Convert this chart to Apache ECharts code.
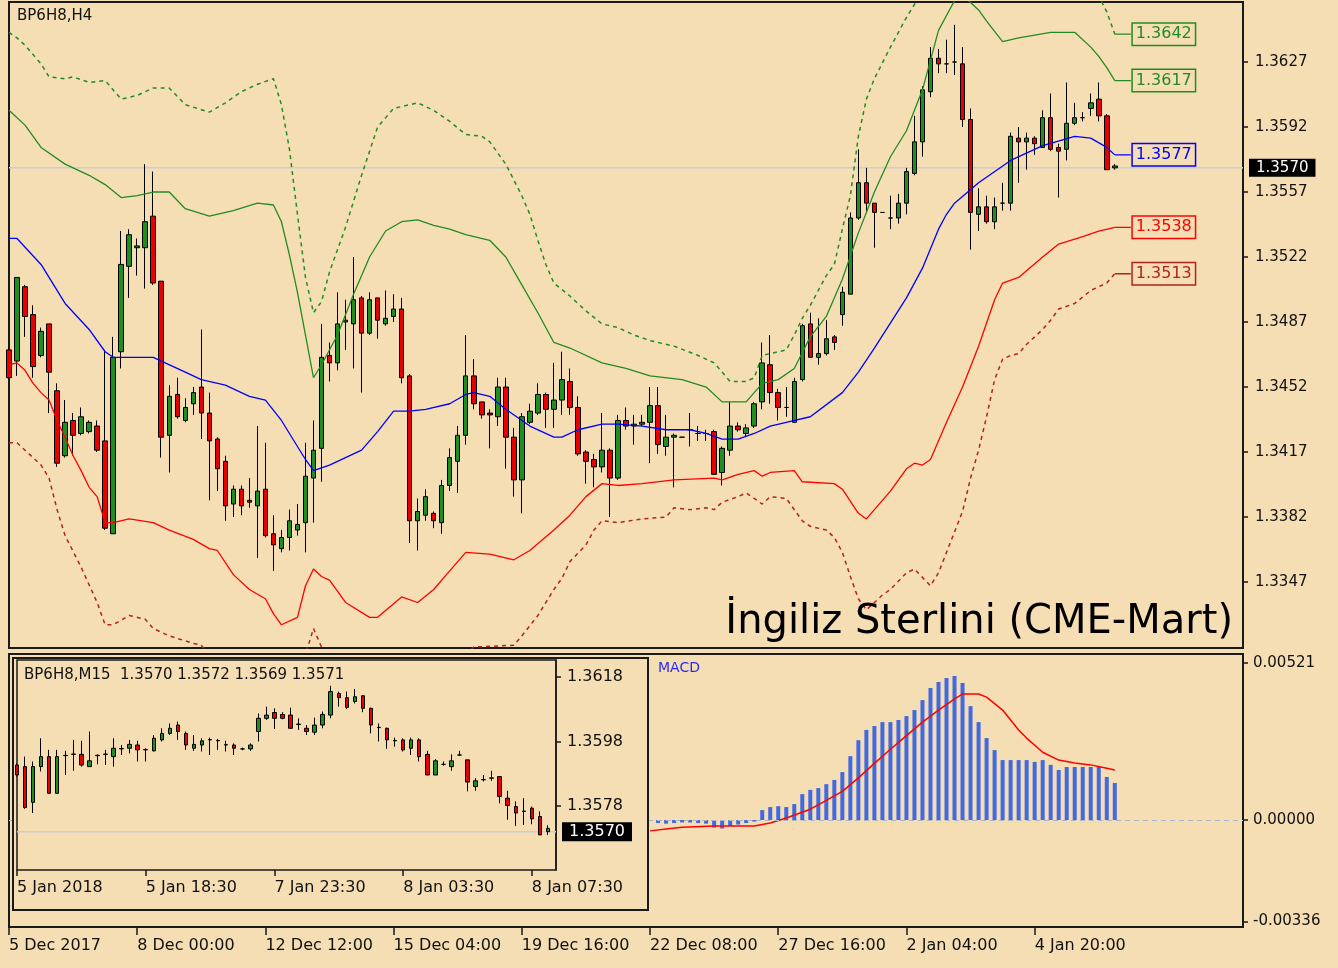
<!DOCTYPE html>
<html>
<head>
<meta charset="utf-8">
<title>BP6H8 H4</title>
<script src="https://cdn.jsdelivr.net/npm/echarts@6/dist/echarts.min.js"></script>
<style>
  html, body { margin: 0; padding: 0; background: #F5DEB3; }
  #chart { width: 1338px; height: 968px; }
</style>
</head>
<body>
<div id="chart"></div>
<script>
// ---- H4 candles (bar index 0..138) ----
const h4Open = [
  1.3472,1.3466,1.3506,1.3491,1.3469,1.3486,1.3450,1.3415,1.3434,1.3427,
  1.3428,1.3431,1.3423,1.3373,1.3471,1.3517,1.3527,1.3527,1.3544,1.3509,
  1.3426,1.3448,1.3434,1.3443,1.3452,1.3438,1.3424,1.3412,1.3389,1.3397,
  1.3391,1.3388,1.3397,1.3373,1.3365,1.3371,1.3375,1.3379,1.3403,1.3419,
  1.3469,1.3465,1.3487,1.3486,1.3500,1.3481,1.3500,1.3486,1.3490,1.3494,
  1.3458,1.3380,1.3383,1.3384,1.3379,1.3399,1.3412,1.3426,1.3458,1.3444,
  1.3438,1.3436,1.3452,1.3425,1.3402,1.3433,1.3438,1.3448,1.3440,1.3445,
  1.3455,1.3441,1.3417,1.3413,1.3409,1.3418,1.3403,1.3434,1.3431,1.3432,
  1.3433,1.3442,1.3420,1.3425,1.3425,1.3429,1.3427,1.3427,1.3428,1.3406,
  1.3418,1.3431,1.3427,1.3431,1.3444,1.3464,1.3449,1.3441,1.3433,1.3456,
  1.3486,1.3468,1.3470,1.3479,1.3491,1.3502,1.3543,1.3562,1.3551,1.3546,
  1.3543,1.3543,1.3551,1.3567,1.3584,1.3611,1.3629,1.3626,1.3627,1.3626,
  1.3596,1.3545,1.3549,1.3541,1.3551,1.3551,1.3586,1.3584,1.3586,1.3581,
  1.3597,1.3581,1.3580,1.3594,1.3597,1.3602,1.3607,1.3598,1.3570
];
const h4High = [
  1.3473,1.3511,1.3507,1.3496,1.3484,1.3486,1.3454,1.3445,1.3438,1.3441,
  1.3434,1.3434,1.3472,1.3479,1.3536,1.3537,1.3532,1.3572,1.3568,1.3509,
  1.3453,1.3457,1.3446,1.3452,1.3483,1.3449,1.3425,1.3415,1.3399,1.3399,
  1.3403,1.3431,1.3422,1.3383,1.3375,1.3386,1.3389,1.3422,1.3434,1.3486,
  1.3476,1.3503,1.3499,1.3522,1.3501,1.3503,1.3500,1.3504,1.3502,1.3500,
  1.3459,1.3392,1.3397,1.3385,1.3402,1.3419,1.3431,1.3480,1.3467,1.3444,
  1.3440,1.3457,1.3457,1.3430,1.3438,1.3443,1.3454,1.3449,1.3465,1.3471,
  1.3462,1.3447,1.3418,1.3416,1.3438,1.3419,1.3437,1.3441,1.3437,1.3437,
  1.3452,1.3452,1.3437,1.3427,1.3425,1.3438,1.3431,1.3429,1.3429,1.3420,
  1.3444,1.3433,1.3432,1.3444,1.3476,1.3480,1.3451,1.3452,1.3457,1.3486,
  1.3492,1.3489,1.3488,1.3480,1.3506,1.3546,1.3580,1.3570,1.3551,1.3546,
  1.3555,1.3556,1.3570,1.3598,1.3614,1.3635,1.3634,1.3639,1.3647,1.3635,
  1.3602,1.3559,1.3555,1.3554,1.3562,1.3589,1.3592,1.3589,1.3587,1.3601,
  1.3610,1.3583,1.3616,1.3605,1.3600,1.3610,1.3616,1.3599,1.3572
];
const h4Low = [
  1.3456,1.3458,1.3479,1.3457,1.3468,1.3438,1.3409,1.3414,1.3415,1.3426,
  1.3427,1.3417,1.3375,1.3373,1.3462,1.3500,1.3512,1.3505,1.3507,1.3414,
  1.3406,1.3435,1.3433,1.3437,1.3424,1.3391,1.3396,1.3380,1.3382,1.3383,
  1.3387,1.3360,1.3371,1.3353,1.3363,1.3364,1.3372,1.3363,1.3379,1.3401,
  1.3455,1.3461,1.3472,1.3462,1.3449,1.3480,1.3478,1.3485,1.3487,1.3454,
  1.3368,1.3364,1.3380,1.3376,1.3373,1.3396,1.3395,1.3421,1.3440,1.3435,
  1.3419,1.3431,1.3408,1.3393,1.3384,1.3432,1.3437,1.3430,1.3430,1.3437,
  1.3437,1.3415,1.3400,1.3398,1.3406,1.3382,1.3402,1.3429,1.3421,1.3431,
  1.3411,1.3416,1.3415,1.3398,1.3425,1.3420,1.3423,1.3423,1.3405,1.3399,
  1.3415,1.3428,1.3425,1.3430,1.3440,1.3443,1.3434,1.3436,1.3433,1.3455,
  1.3468,1.3464,1.3469,1.3472,1.3485,1.3502,1.3542,1.3546,1.3527,1.3546,
  1.3537,1.3540,1.3545,1.3566,1.3576,1.3608,1.3621,1.3621,1.3620,1.3592,
  1.3526,1.3536,1.3540,1.3537,1.3547,1.3547,1.3562,1.3569,1.3577,1.3581,
  1.3579,1.3554,1.3574,1.3593,1.3595,1.3598,1.3595,1.3569,1.3569
];
const h4Close = [
  1.3457,1.3511,1.3490,1.3463,1.3482,1.3460,1.3411,1.3433,1.3426,1.3436,
  1.3433,1.3418,1.3376,1.3468,1.3518,1.3534,1.3528,1.3541,1.3508,1.3425,
  1.3447,1.3436,1.3441,1.3449,1.3438,1.3423,1.3408,1.3388,1.3397,1.3388,
  1.3390,1.3396,1.3372,1.3367,1.3371,1.3380,1.3378,1.3404,1.3418,1.3468,
  1.3465,1.3486,1.3488,1.3499,1.3481,1.3499,1.3488,1.3489,1.3494,1.3457,
  1.3380,1.3385,1.3393,1.3380,1.3399,1.3414,1.3426,1.3458,1.3443,1.3437,
  1.3437,1.3452,1.3425,1.3402,1.3436,1.3439,1.3448,1.3440,1.3445,1.3456,
  1.3441,1.3416,1.3412,1.3409,1.3418,1.3403,1.3434,1.3431,1.3432,1.3433,
  1.3442,1.3421,1.3425,1.3426,1.3425,1.3429,1.3427,1.3427,1.3405,1.3419,
  1.3431,1.3429,1.3430,1.3443,1.3465,1.3449,1.3441,1.3441,1.3455,1.3485,
  1.3468,1.3470,1.3478,1.3476,1.3503,1.3543,1.3562,1.3551,1.3546,1.3546,
  1.3543,1.3551,1.3568,1.3584,1.3612,1.3629,1.3626,1.3626,1.3627,1.3596,
  1.3546,1.3549,1.3541,1.3549,1.3551,1.3587,1.3584,1.3586,1.3583,1.3597,
  1.3580,1.3579,1.3594,1.3597,1.3597,1.3605,1.3598,1.3569,1.3571
];
const h4Labels = ['5 Dec 2017','8 Dec 00:00','12 Dec 12:00','15 Dec 04:00','19 Dec 16:00',
  '22 Dec 08:00','27 Dec 16:00','2 Jan 04:00','4 Jan 20:00'];
const h4PriceTicks = [1.3347,1.3382,1.3417,1.3452,1.3487,1.3522,1.3557,1.3592,1.3627];
const bid = 1.3570;

// ---- Bollinger bands, [bar index, price] ----
const bbUpper3 = [[0,1.3643],[1,1.3640],[2,1.3636],[4,1.3626],[5,1.3619],[7,1.3618],[8,1.3619],[10,1.3616],
  [12,1.3617],[14,1.3607],[16,1.3609],[18,1.3613],[20,1.3613],[22,1.3604],[25,1.3600],[27,1.3605],[29,1.3611],
  [31,1.3615],[33,1.3618],[34,1.3604],[35,1.3580],[36,1.3545],[37,1.3511],[38,1.3492],[39,1.3498],[40,1.3514],
  [42,1.3538],[44,1.3566],[46,1.3592],[48,1.3602],[51,1.3605],[53,1.3601],[55,1.3595],[57,1.3588],[59,1.3587],
  [60,1.3584],[62,1.3572],[64,1.3555],[65,1.3545],[66,1.3531],[67,1.3518],[68,1.3508],[70,1.3501],[72,1.3493],
  [74,1.3486],[76,1.3484],[78,1.3480],[80,1.3477],[83,1.3474],[86,1.3469],[88,1.3465],[90,1.3455],[92,1.3455],
  [93,1.3457],[94,1.3469],[95,1.3470],[97,1.3472],[98,1.3480],[99,1.3489],[100,1.3496],[102,1.3512],[103,1.3518],
  [104,1.3537],[105,1.3555],[106,1.3587],[107,1.3607],[108,1.3618],[110,1.3635],[112,1.3651],[113,1.3658],
  [115,1.3672],[117,1.3687],[121,1.3698],[126,1.3698],[131,1.3687],[135,1.3671],[137,1.3654],[138,1.3642]];
const bbUpper2 = [[0,1.3601],[2,1.3593],[4,1.3581],[7,1.3572],[10,1.3566],[12,1.3561],[14,1.3554],[16,1.3555],
  [18,1.3557],[20,1.3557],[22,1.3548],[25,1.3544],[28,1.3547],[31,1.3551],[33,1.3550],[34,1.3541],[35,1.3523],
  [36,1.3503],[37,1.3480],[38,1.3457],[39,1.3464],[41,1.3480],[43,1.3502],[45,1.3522],[47,1.3536],[49,1.3541],
  [51,1.3542],[53,1.3539],[55,1.3537],[57,1.3534],[60,1.3531],[62,1.3522],[64,1.3507],[66,1.3492],[68,1.3476],
  [70,1.3473],[74,1.3465],[77,1.3462],[80,1.3458],[84,1.3456],[87,1.3452],[89,1.3444],[92,1.3444],[94,1.3454],
  [96,1.3456],[98,1.3462],[100,1.3479],[102,1.3490],[104,1.3510],[106,1.3535],[108,1.3557],[110,1.3576],
  [112,1.3590],[114,1.3612],[116,1.3644],[117,1.3652],[118,1.3660],[119,1.3663],[120,1.3659],[121,1.3655],
  [122,1.3649],[124,1.3638],[126,1.3640],[130,1.3643],[133,1.3643],[135,1.3635],[136,1.3630],[137,1.3624],[138,1.3617]];
const bbMid = [[0,1.3532],[1,1.3532],[4,1.3518],[7,1.3497],[10,1.3483],[12,1.3471],[13,1.3468],[16,1.3468],
  [18,1.3468],[22,1.3460],[24,1.3456],[27,1.3453],[30,1.3447],[32,1.3445],[34,1.3434],[37,1.3413],[38,1.3407],
  [40,1.3410],[44,1.3418],[46,1.3428],[48,1.3439],[50,1.3439],[52,1.3440],[55,1.3443],[57,1.3448],[58,1.3449],
  [60,1.3447],[62,1.3440],[65,1.3431],[68,1.3425],[69,1.3425],[71,1.3429],[74,1.3432],[76,1.3432],[79,1.3431],
  [82,1.3429],[85,1.3429],[87,1.3427],[89,1.3424],[91,1.3424],[93,1.3427],[95,1.3431],[97,1.3433],[100,1.3436],
  [104,1.3449],[106,1.3460],[108,1.3473],[112,1.3500],[114,1.3516],[116,1.3537],[117,1.3545],[118,1.3551],
  [121,1.3562],[125,1.3574],[129,1.3582],[133,1.3587],[135,1.3586],[137,1.3581],[138,1.3577]];
const bbLower2 = [[0,1.3464],[1,1.3465],[2,1.3461],[3,1.3454],[4,1.3449],[5,1.3445],[6,1.3434],[7,1.3425],
  [8,1.3415],[9,1.3407],[10,1.3398],[11,1.3393],[12,1.3379],[13,1.3379],[15,1.3381],[18,1.3379],[20,1.3375],
  [23,1.3370],[25,1.3365],[26,1.3364],[28,1.3351],[30,1.3343],[32,1.3338],[33,1.3330],[34,1.3324],[36,1.3328],
  [37,1.3345],[38,1.3354],[39,1.3350],[40,1.3348],[42,1.3336],[45,1.3328],[46,1.3328],[49,1.3339],[51,1.3336],
  [53,1.3343],[55,1.3353],[57,1.3363],[60,1.3362],[63,1.3359],[65,1.3364],[68,1.3375],[70,1.3383],[72,1.3393],
  [74,1.3400],[76,1.3399],[79,1.3400],[83,1.3402],[88,1.3403],[89,1.3402],[91,1.3405],[93,1.3407],[94,1.3404],
  [95,1.3406],[98,1.3407],[99,1.3401],[103,1.3400],[104,1.3397],[106,1.3384],[107,1.3381],[110,1.3396],
  [112,1.3408],[113,1.3411],[114,1.3410],[115,1.3413],[117,1.3433],[119,1.3452],[121,1.3474],[123,1.3499],
  [124,1.3508],[126,1.3511],[129,1.3522],[131,1.3529],[134,1.3533],[136,1.3536],[138,1.3538]];
const bbLower3 = [[0,1.3422],[1,1.3422],[2,1.3418],[4,1.3410],[5,1.3403],[6,1.3386],[7,1.3372],[9,1.3355],
  [11,1.3336],[12,1.3324],[13,1.3324],[15,1.3329],[17,1.3327],[18,1.3322],[20,1.3318],[23,1.3314],[24,1.3313],
  [26,1.3302],[30,1.3294],[35,1.3300],[37,1.3308],[38,1.3322],[39,1.3312],[40,1.3304],[45,1.3289],[50,1.3289],
  [55,1.3300],[58,1.3312],[63,1.3313],[64,1.3318],[66,1.3329],[68,1.3343],[69,1.3349],[70,1.3358],[72,1.3367],
  [73,1.3375],[74,1.3380],[76,1.3379],[79,1.3381],[82,1.3382],[83,1.3387],[85,1.3386],[87,1.3387],[88,1.3386],
  [89,1.3390],[91,1.3393],[92,1.3395],[94,1.3389],[95,1.3393],[97,1.3392],[99,1.3380],[100,1.3377],[102,1.3375],
  [103,1.3371],[104,1.3363],[105,1.3350],[106,1.3338],[107,1.3332],[109,1.3340],[110,1.3343],[112,1.3352],
  [113,1.3354],[115,1.3345],[116,1.3352],[118,1.3374],[119,1.3385],[120,1.3403],[121,1.3418],[122,1.3436],
  [123,1.3456],[124,1.3467],[125,1.3469],[126,1.3470],[127,1.3475],[129,1.3483],[130,1.3488],[131,1.3494],
  [133,1.3497],[135,1.3504],[137,1.3508],[138,1.3513]];

// ---- MACD (visible part, right of the inset) ----
const macdHist = [[81,-0.00010],[82,-0.00012],[83,-0.00010],[84,-0.00008],[85,-0.00008],[86,-0.00010],
  [87,-0.00012],[88,-0.00025],[89,-0.00028],[90,-0.00020],[91,-0.00015],[92,-0.00010],[93,-0.00005],
  [94,0.00033],[95,0.00043],[96,0.00046],[97,0.00043],[98,0.00053],[99,0.00086],[100,0.00100],[101,0.00106],
  [102,0.00119],[103,0.00133],[104,0.00159],[105,0.00212],[106,0.00265],[107,0.00299],[108,0.00312],
  [109,0.00325],[110,0.00325],[111,0.00332],[112,0.00345],[113,0.00365],[114,0.00398],[115,0.00438],
  [116,0.00458],[117,0.00471],[118,0.00478],[119,0.00455],[120,0.00378],[121,0.00325],[122,0.00272],
  [123,0.00232],[124,0.00199],[125,0.00199],[126,0.00199],[127,0.00199],[128,0.00193],[129,0.00199],
  [130,0.00183],[131,0.00166],[132,0.00176],[133,0.00176],[134,0.00176],[135,0.00176],[136,0.00176],
  [137,0.00143],[138,0.00123]];
const macdSignal = [[80,-0.00036],[82,-0.00030],[84,-0.00024],[88,-0.00020],[93,-0.00020],[95,-0.00010],
  [97,0.00007],[100,0.00036],[102,0.00065],[104,0.00095],[106,0.00140],[108,0.00188],[110,0.00235],
  [112,0.00280],[114,0.00325],[116,0.00365],[118,0.00402],[119,0.00418],[121,0.00418],[122,0.00408],
  [124,0.00365],[126,0.00299],[127,0.00272],[129,0.00225],[131,0.00199],[133,0.00189],[135,0.00183],
  [137,0.00172],[138,0.00166]];
const macdTicks = [-0.00336, 0, 0.00521];

// ---- M15 inset candles ----
const m15Open = [
  1.35907,1.35902,1.35791,1.35902,1.35933,1.35819,1.35936,1.35940,1.35940,1.35902,
  1.35936,1.35940,1.35933,1.35957,1.35959,1.35969,1.35954,1.35951,1.35985,1.36005,
  1.36031,1.36005,1.35959,1.35969,1.35985,1.35982,1.35969,1.35969,1.35957,1.35957,
  1.36011,1.36052,1.36070,1.36064,1.36062,1.36033,1.36021,1.36009,1.36031,1.36062,
  1.36129,1.36116,1.36104,1.36122,1.36083,1.36023,1.36021,1.35982,1.35985,1.35959,
  1.35985,1.35940,1.35876,1.35909,1.35902,1.35938,1.35923,1.35840,1.35861,1.35866,
  1.35871,1.35804,1.35778,1.35763,1.35773,1.35747,1.35700
];
const m15High = [
  1.35912,1.35933,1.35918,1.35990,1.35954,1.35954,1.35951,1.35985,1.35982,1.36011,
  1.35940,1.35954,1.35990,1.35969,1.35985,1.35982,1.35959,1.36000,1.36021,1.36036,
  1.36042,1.36011,1.36000,1.35990,1.35992,1.35988,1.35982,1.35974,1.35961,1.35974,
  1.36067,1.36088,1.36083,1.36071,1.36085,1.36052,1.36031,1.36054,1.36073,1.36153,
  1.36135,1.36135,1.36143,1.36124,1.36085,1.36036,1.36023,1.35992,1.35990,1.35992,
  1.35990,1.35951,1.35925,1.35918,1.35940,1.35951,1.35923,1.35866,1.35876,1.35889,
  1.35871,1.35827,1.35794,1.35804,1.35778,1.35763,1.35720
];
const m15Low = [
  1.35871,1.35771,1.35758,1.35887,1.35819,1.35819,1.35876,1.35889,1.35902,1.35902,
  1.35909,1.35907,1.35902,1.35938,1.35943,1.35918,1.35918,1.35949,1.35980,1.36000,
  1.35985,1.35954,1.35951,1.35949,1.35938,1.35954,1.35949,1.35938,1.35953,1.35951,
  1.35980,1.36047,1.36019,1.36049,1.36019,1.36016,1.36000,1.36000,1.36021,1.36052,
  1.36088,1.36081,1.36098,1.36071,1.36005,1.35980,1.35957,1.35964,1.35949,1.35938,
  1.35918,1.35876,1.35876,1.35905,1.35889,1.35936,1.35825,1.35827,1.35856,1.35858,
  1.35788,1.35737,1.35718,1.35721,1.35723,1.35690,1.35690
];
const m15Close = [
  1.35876,1.35775,1.35902,1.35933,1.35819,1.35933,1.35937,1.35941,1.35907,1.35920,
  1.35937,1.35941,1.35959,1.35958,1.35971,1.35954,1.35955,1.35990,1.36005,1.36021,
  1.36011,1.35969,1.35971,1.35982,1.35986,1.35983,1.35970,1.35959,1.35957,1.35969,
  1.36052,1.36062,1.36052,1.36052,1.36021,1.36034,1.36011,1.36031,1.36064,1.36135,
  1.36116,1.36086,1.36119,1.36083,1.36031,1.36024,1.35985,1.35983,1.35954,1.35985,
  1.35933,1.35876,1.35920,1.35909,1.35920,1.35938,1.35854,1.35858,1.35862,1.35867,
  1.35809,1.35781,1.35758,1.35764,1.35740,1.35690,1.35710
];
const m15Labels = ['5 Jan 2018','5 Jan 18:30','7 Jan 23:30','8 Jan 03:30','8 Jan 07:30'];
const m15PriceTicks = [1.3578, 1.3598, 1.3618];

// ---- styling ----
const FONT = 'DejaVu Sans';
const BG = '#F5DEB3';
const FRAME = '#1a1a1a';
const UP = '#1E8E1E';
const DOWN = '#E80000';
const LABEL_EVERY = 16;
const N_MAIN = 155;   // slots on the H4 axis (incl. empty right margin)
const N_INSET = 68;

const mainCats = Array.from({length: N_MAIN}, (_, i) => String(i));
const insetCats = Array.from({length: N_INSET}, (_, i) => String(i));

const h4Candles = h4Open.map((o, i) => [o, h4Close[i], h4Low[i], h4High[i]]);
const m15Candles = m15Open.map((o, i) => [o, m15Close[i], m15Low[i], m15High[i]]);
const lastM15 = m15Open.length - 1;

function band(pts, color, dashed) {
  return {
    type: 'line', xAxisIndex: 0, yAxisIndex: 0, data: pts,
    symbol: 'none', z: 5, silent: true,
    lineStyle: {color: color, width: dashed ? 1.5 : 1.3, type: dashed ? [4, 4] : 'solid'}
  };
}
// short leader from the last bar to the value box
function bandTag(pts, color) {
  const v = pts[pts.length - 1][1];
  return {
    type: 'line', xAxisIndex: 0, yAxisIndex: 0, data: [[138, v], [140, v]],
    symbol: 'none', z: 5, silent: true,
    lineStyle: {color: color, width: 1.3},
    endLabel: {
      show: true, formatter: p => p.value[1].toFixed(4), distance: 2,
      color: color, fontFamily: FONT, fontSize: 16, backgroundColor: BG,
      borderColor: color, borderWidth: 1.5, padding: [3, 3, 2, 3]
    }
  };
}
function priceBox(fontSize) {
  return {
    show: true, formatter: p => p.value[1].toFixed(4), distance: 6,
    color: '#fff', backgroundColor: '#000', fontFamily: FONT, fontSize: fontSize,
    padding: [2, 7, 1, 7]
  };
}
const mainTick = i => i % LABEL_EVERY === 0 && i / LABEL_EVERY < h4Labels.length;
const insetTick = i => i % LABEL_EVERY === 0 && i / LABEL_EVERY < m15Labels.length;

const chart = echarts.init(document.getElementById('chart'));
chart.setOption({
  animation: false,
  backgroundColor: BG,
  grid: [
    {left: 9, top: 2, right: 95, bottom: 320, show: true, borderColor: FRAME, borderWidth: 2, backgroundColor: 'transparent'},
    {left: 9, top: 654, right: 95, bottom: 41, show: true, borderColor: FRAME, borderWidth: 2, backgroundColor: 'transparent'},
    {left: 17, top: 660, right: 782, bottom: 98, show: true, borderColor: FRAME, borderWidth: 1.5, backgroundColor: 'transparent', z: 11}
  ],
  xAxis: [
    {gridIndex: 0, type: 'category', data: mainCats, boundaryGap: false, show: false},
    {gridIndex: 1, type: 'category', data: mainCats, boundaryGap: false, position: 'bottom',
      axisLine: {show: false, onZero: false},
      axisTick: {show: true, interval: mainTick, length: 8, lineStyle: {color: FRAME, width: 1.5}},
      axisLabel: {interval: mainTick, formatter: (v, i) => h4Labels[i / LABEL_EVERY] || '',
        align: 'left', margin: 11, color: '#111', fontFamily: FONT, fontSize: 16},
      splitLine: {show: false}},
    {gridIndex: 2, type: 'category', data: insetCats, boundaryGap: false, z: 12, position: 'bottom',
      axisLine: {show: false, onZero: false},
      axisTick: {show: true, interval: insetTick, length: 6, lineStyle: {color: FRAME, width: 1.5}},
      axisLabel: {interval: insetTick, formatter: (v, i) => m15Labels[i / LABEL_EVERY] || '',
        align: 'left', margin: 10, color: '#111', fontFamily: FONT, fontSize: 16},
      splitLine: {show: false}}
  ],
  yAxis: [
    {gridIndex: 0, type: 'value', position: 'right', min: 1.33115, max: 1.36593,
      axisLine: {show: true, lineStyle: {color: FRAME, width: 2}},
      axisTick: {show: true, length: 5, customValues: h4PriceTicks, lineStyle: {color: FRAME, width: 1.5}},
      axisLabel: {customValues: h4PriceTicks, formatter: v => v.toFixed(4), margin: 12,
        color: '#111', fontFamily: FONT, fontSize: 15},
      splitLine: {show: false}},
    {gridIndex: 1, type: 'value', position: 'right', min: -0.00355, max: 0.00551,
      axisLine: {show: true, lineStyle: {color: FRAME, width: 2}},
      axisTick: {show: true, length: 5, customValues: macdTicks, lineStyle: {color: FRAME, width: 1.5}},
      axisLabel: {customValues: macdTicks, formatter: v => v.toFixed(5), margin: 10,
        color: '#111', fontFamily: FONT, fontSize: 15},
      splitLine: {show: false}},
    {gridIndex: 2, type: 'value', position: 'right', min: 1.35581, max: 1.36233, z: 12,
      axisLine: {show: true, lineStyle: {color: FRAME, width: 1.5}},
      axisTick: {show: true, length: 5, customValues: m15PriceTicks, lineStyle: {color: FRAME, width: 1.5}},
      axisLabel: {customValues: m15PriceTicks, formatter: v => v.toFixed(4), margin: 11,
        color: '#111', fontFamily: FONT, fontSize: 16},
      splitLine: {show: false}}
  ],
  series: [
    // bid line of the H4 chart
    {type: 'line', xAxisIndex: 0, yAxisIndex: 0, data: [[0, bid], [N_MAIN - 1, bid]], symbol: 'none', z: 1,
      silent: true, lineStyle: {color: '#C8CDD6', width: 1.5}, endLabel: priceBox(15)},
    {type: 'candlestick', xAxisIndex: 0, yAxisIndex: 0, data: h4Candles, barWidth: 5, z: 3,
      itemStyle: {color: UP, color0: DOWN, borderColor: '#000', borderColor0: '#000', borderColorDoji: '#000', borderWidth: 1}},
    band(bbUpper3, '#228B22', true),
    band(bbUpper2, '#228B22', false),
    band(bbMid, '#0000FF', false),
    band(bbLower2, '#FF0000', false),
    band(bbLower3, '#B22222', true),
    bandTag(bbUpper3, '#228B22'),
    bandTag(bbUpper2, '#228B22'),
    bandTag(bbMid, '#0000FF'),
    bandTag(bbLower2, '#FF0000'),
    bandTag(bbLower3, '#B22222'),
    // MACD pane
    {type: 'bar', xAxisIndex: 1, yAxisIndex: 1, data: macdHist, barWidth: 4, z: 2,
      itemStyle: {color: '#4169E1'},
      markLine: {silent: true, symbol: ['none', 'none'], label: {show: false},
        lineStyle: {color: '#A9B6CC', width: 1.2, type: [5, 4]}, data: [{yAxis: 0}]}},
    {type: 'line', xAxisIndex: 1, yAxisIndex: 1, data: macdSignal, symbol: 'none', z: 3,
      lineStyle: {color: '#FF0000', width: 1.5}},
    // M15 inset
    {type: 'line', xAxisIndex: 2, yAxisIndex: 2, data: [[0, bid], [N_INSET - 1, bid]], symbol: 'none', z: 12,
      silent: true, lineStyle: {color: '#C8CDD6', width: 1.5}, endLabel: priceBox(16)},
    {type: 'candlestick', xAxisIndex: 2, yAxisIndex: 2, data: m15Candles, barWidth: 4, z: 13,
      itemStyle: {color: UP, color0: DOWN, borderColor: '#000', borderColor0: '#000', borderColorDoji: '#000', borderWidth: 1}}
  ],
  graphic: [
    {type: 'rect', z: 6, silent: true, shape: {x: 13, y: 658, width: 635, height: 252},
      style: {fill: BG, stroke: FRAME, lineWidth: 2}},
    {type: 'text', z: 20, x: 17, y: 16,
      style: {text: 'BP6H8,H4', font: '15px "DejaVu Sans"', fill: '#111', verticalAlign: 'middle'}},
    {type: 'text', z: 20, x: 1233, y: 623,
      style: {text: 'İngiliz Sterlini (CME-Mart)', font: '40px "DejaVu Sans"', fill: '#000',
        align: 'right', verticalAlign: 'middle'}},
    {type: 'text', z: 20, x: 658, y: 668,
      style: {text: 'MACD', font: '14px "DejaVu Sans"', fill: '#2A2AFF', verticalAlign: 'middle'}},
    {type: 'text', z: 20, x: 24, y: 675,
      style: {text: 'BP6H8,M15  ' + [m15Open[lastM15], m15High[lastM15], m15Low[lastM15], m15Close[lastM15]]
        .map(v => v.toFixed(4)).join(' '), font: '15px "DejaVu Sans"', fill: '#111', verticalAlign: 'middle'}}
  ]
});
</script>
</body>
</html>
